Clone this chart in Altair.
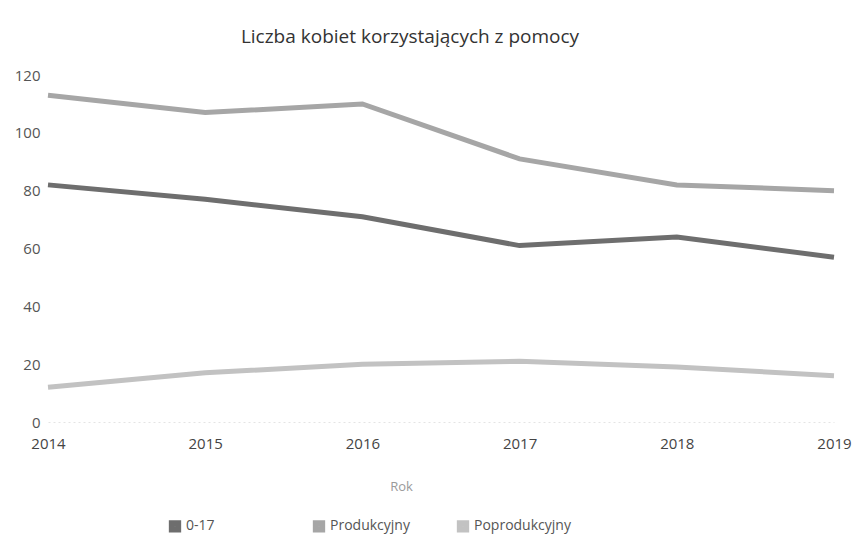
import altair as alt
import pandas as pd

years = ["2014", "2015", "2016", "2017", "2018", "2019"]
series = ["0-17", "Produkcyjny", "Poprodukcyjny"]
v_0_17 = [82, 77, 71, 61, 64, 57]
v_prod = [113, 107, 110, 91, 82, 80]
v_poprod = [12, 17, 20, 21, 19, 16]
colors = ["#6e6e6e", "#a6a6a6", "#c2c2c2"]

rows = []
for name, vals in zip(series, [v_0_17, v_prod, v_poprod]):
    for y, v in zip(years, vals):
        rows.append({"Rok": y, "Seria": name, "Wartosc": v})
df = pd.DataFrame(rows)

chart = alt.Chart(df).mark_line(strokeWidth=5, strokeCap="butt").encode(
    x=alt.X("Rok:O", scale=alt.Scale(type="point", padding=0),
            axis=alt.Axis(title="Rok", labelAngle=0, ticks=False, domain=True,
                          domainColor="#e4e4e4", domainDash=[2, 3], grid=False,
                          labelFontSize=15, labelColor="#444444", labelPadding=14,
                          titleFontSize=13, titleColor="#9a9a9a", titleFontWeight="normal",
                          titlePadding=29, titleX=353)),
    y=alt.Y("Wartosc:Q", scale=alt.Scale(domain=[0, 120]),
            axis=alt.Axis(title=None, values=[0, 20, 40, 60, 80, 100, 120], ticks=False,
                          domain=False, grid=False, labelFontSize=15, labelColor="#555555",
                          labelPadding=8)),
    color=alt.Color("Seria:N", sort=series,
                    scale=alt.Scale(domain=series, range=colors),
                    legend=alt.Legend(title=None, orient="none", legendX=120, legendY=444,
                                      direction="horizontal", columns=3, gridAlign="all",
                                      columnPadding=20, symbolType="square", symbolSize=40,
                                      symbolStrokeWidth=6, labelFontSize=14,
                                      labelColor="#555555")),
    order=alt.Order("Rok:O"),
).properties(
    width=786,
    height=347,
    padding={"left": 6, "top": 20, "right": 0, "bottom": 0},
    title=alt.TitleParams("Liczba kobiet korzystających z pomocy", fontSize=19,
                          fontWeight="normal", color="#333333", offset=21, dx=-31),
).configure(font="Open Sans").configure_view(strokeWidth=0, stroke="transparent")

chart.save("out.html", embed_options={"renderer": "svg", "actions": False})
